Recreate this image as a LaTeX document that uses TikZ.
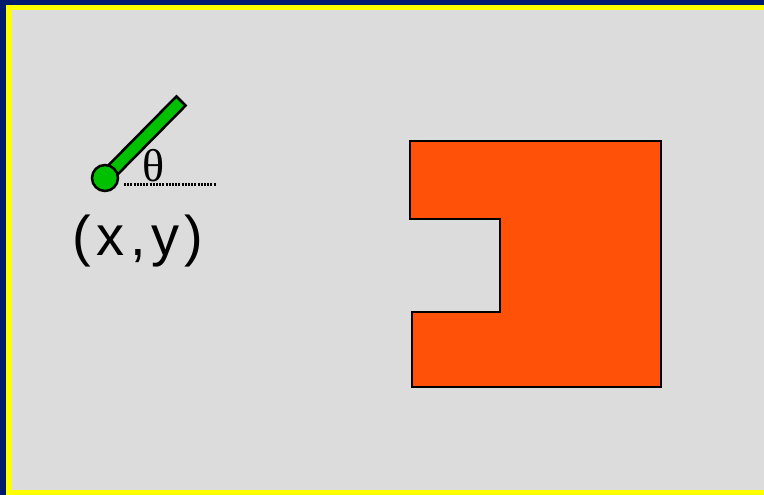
\documentclass[tikz,border=0pt]{standalone}
\usepackage{fontspec}
\setmainfont{Liberation Serif}
\newfontfamily\labelfont[LetterSpace=10]{Liberation Sans}
\usetikzlibrary{positioning,calc}
\definecolor{framenavy}{RGB}{0,26,110}
\definecolor{frameyellow}{RGB}{255,255,0}
\definecolor{panelgray}{RGB}{220,220,220}
\definecolor{penGreen}{RGB}{0,192,0}
\definecolor{blockOrange}{RGB}{255,82,8}

\begin{document}
\begin{tikzpicture}[
  x=1pt, y=-1pt,
  outline/.style={draw=black, line width=2.5pt, line join=miter},
  pen/.style={outline, fill=penGreen},
  obstacle/.style={draw=black, line width=2.2pt, fill=blockOrange},
  refline/.style={draw=black, line width=3pt, dash pattern=on 2pt off 1.2pt},
  coordlabel/.style={font=\labelfont\fontsize{56}{60}\selectfont, inner sep=0pt},
  anglelabel/.style={font=\fontsize{46}{50}\selectfont, inner sep=0pt}
]
  \useasboundingbox (0,0) rectangle (764,495);
  % frame
  \fill[framenavy] (0,0) rectangle (764,495);
  \fill[frameyellow] (6,5) rectangle (764,495);
  \fill[panelgray] (12,10) rectangle (764,490);

  % pen: rod and base
  \coordinate (base) at (105,178);
  \coordinate (tip) at (181,101);
  \draw[pen] ($(base)+(4.6,4.6)$) -- ($(tip)+(4.6,4.6)$) -- ($(tip)+(-4.6,-4.6)$) -- ($(base)+(-4.6,-4.6)$) -- cycle;
  \draw[pen] (base) circle[radius=13];
  \coordinate (refstart) at (124,184);
  \coordinate (refend) at (216,184);
  \draw[refline] (refstart) -- (refend);
  \node[anglelabel] (theta) at (154,166) {θ};
  \node[coordlabel] (pos) at (138,241) {(x,y)};

  % obstacle
  \draw[obstacle] (410,141) -- (661,141) -- (661,387) -- (412,387) -- (412,312)
    -- (500,312) -- (500,219) -- (410,219) -- cycle;
\end{tikzpicture}
\end{document}
